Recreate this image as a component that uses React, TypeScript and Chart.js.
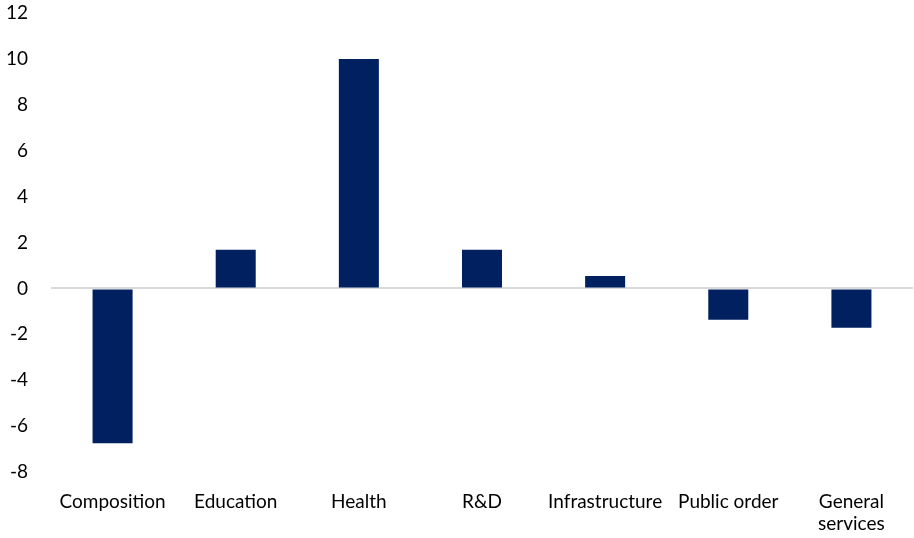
import React, { useEffect, useRef } from "react";
import { Chart, registerables } from "chart.js";

Chart.register(...registerables);

const categories: (string | string[])[] = [
  "Composition",
  "Education",
  "Health",
  "R&D",
  "Infrastructure",
  "Public order",
  ["General", "services"],
];
const values: number[] = [-6.75, 1.68, 10.0, 1.68, 0.54, -1.37, -1.72];
const yMin = -8;
const yMax = 12;
const yStep = 2;

export default function App() {
  const ref = useRef<HTMLCanvasElement | null>(null);
  useEffect(() => {
    document.body.style.margin = "0";
    if (!ref.current) return;
    const chart = new Chart(ref.current, {
      type: "bar",
      data: {
        labels: categories,
        datasets: [
          {
            data: values,
            backgroundColor: "#002060",
            categoryPercentage: 1,
            barPercentage: 0.325,
          },
        ],
      },
      options: {
        animation: false,
        responsive: false,
        layout: { padding: { top: 13, right: 1, left: 0, bottom: 0 } },
        plugins: { legend: { display: false }, tooltip: { enabled: false } },
        scales: {
          x: {
            grid: { display: false, drawTicks: false },
            border: { display: false },
            ticks: {
              color: "#000",
              font: { family: "Lato", size: 19 },
              padding: 18,
              maxRotation: 0,
              autoSkip: false,
            },
            afterFit: (s: any) => {
              s.height = 66;
            },
          },
          y: {
            min: yMin,
            max: yMax,
            grid: {
              drawTicks: false,
              color: (ctx: any) => (ctx.tick && ctx.tick.value === 0 ? "#d9d9d9" : "rgba(0,0,0,0)"),
              lineWidth: 2,
            },
            border: { display: false },
            ticks: {
              stepSize: yStep,
              color: "#000",
              font: { family: "Lato", size: 19 },
              padding: 23,
            },
            afterFit: (s: any) => {
              s.width = 51;
              s.paddingTop = 0;
              s.paddingBottom = 0;
            },
          },
        },
      },
    });
    return () => chart.destroy();
  }, []);
  return (
    <div style={{ position: "absolute", left: 0, top: 0, width: 914, height: 538 }}>
      <canvas ref={ref} width={914} height={538} />
    </div>
  );
}
